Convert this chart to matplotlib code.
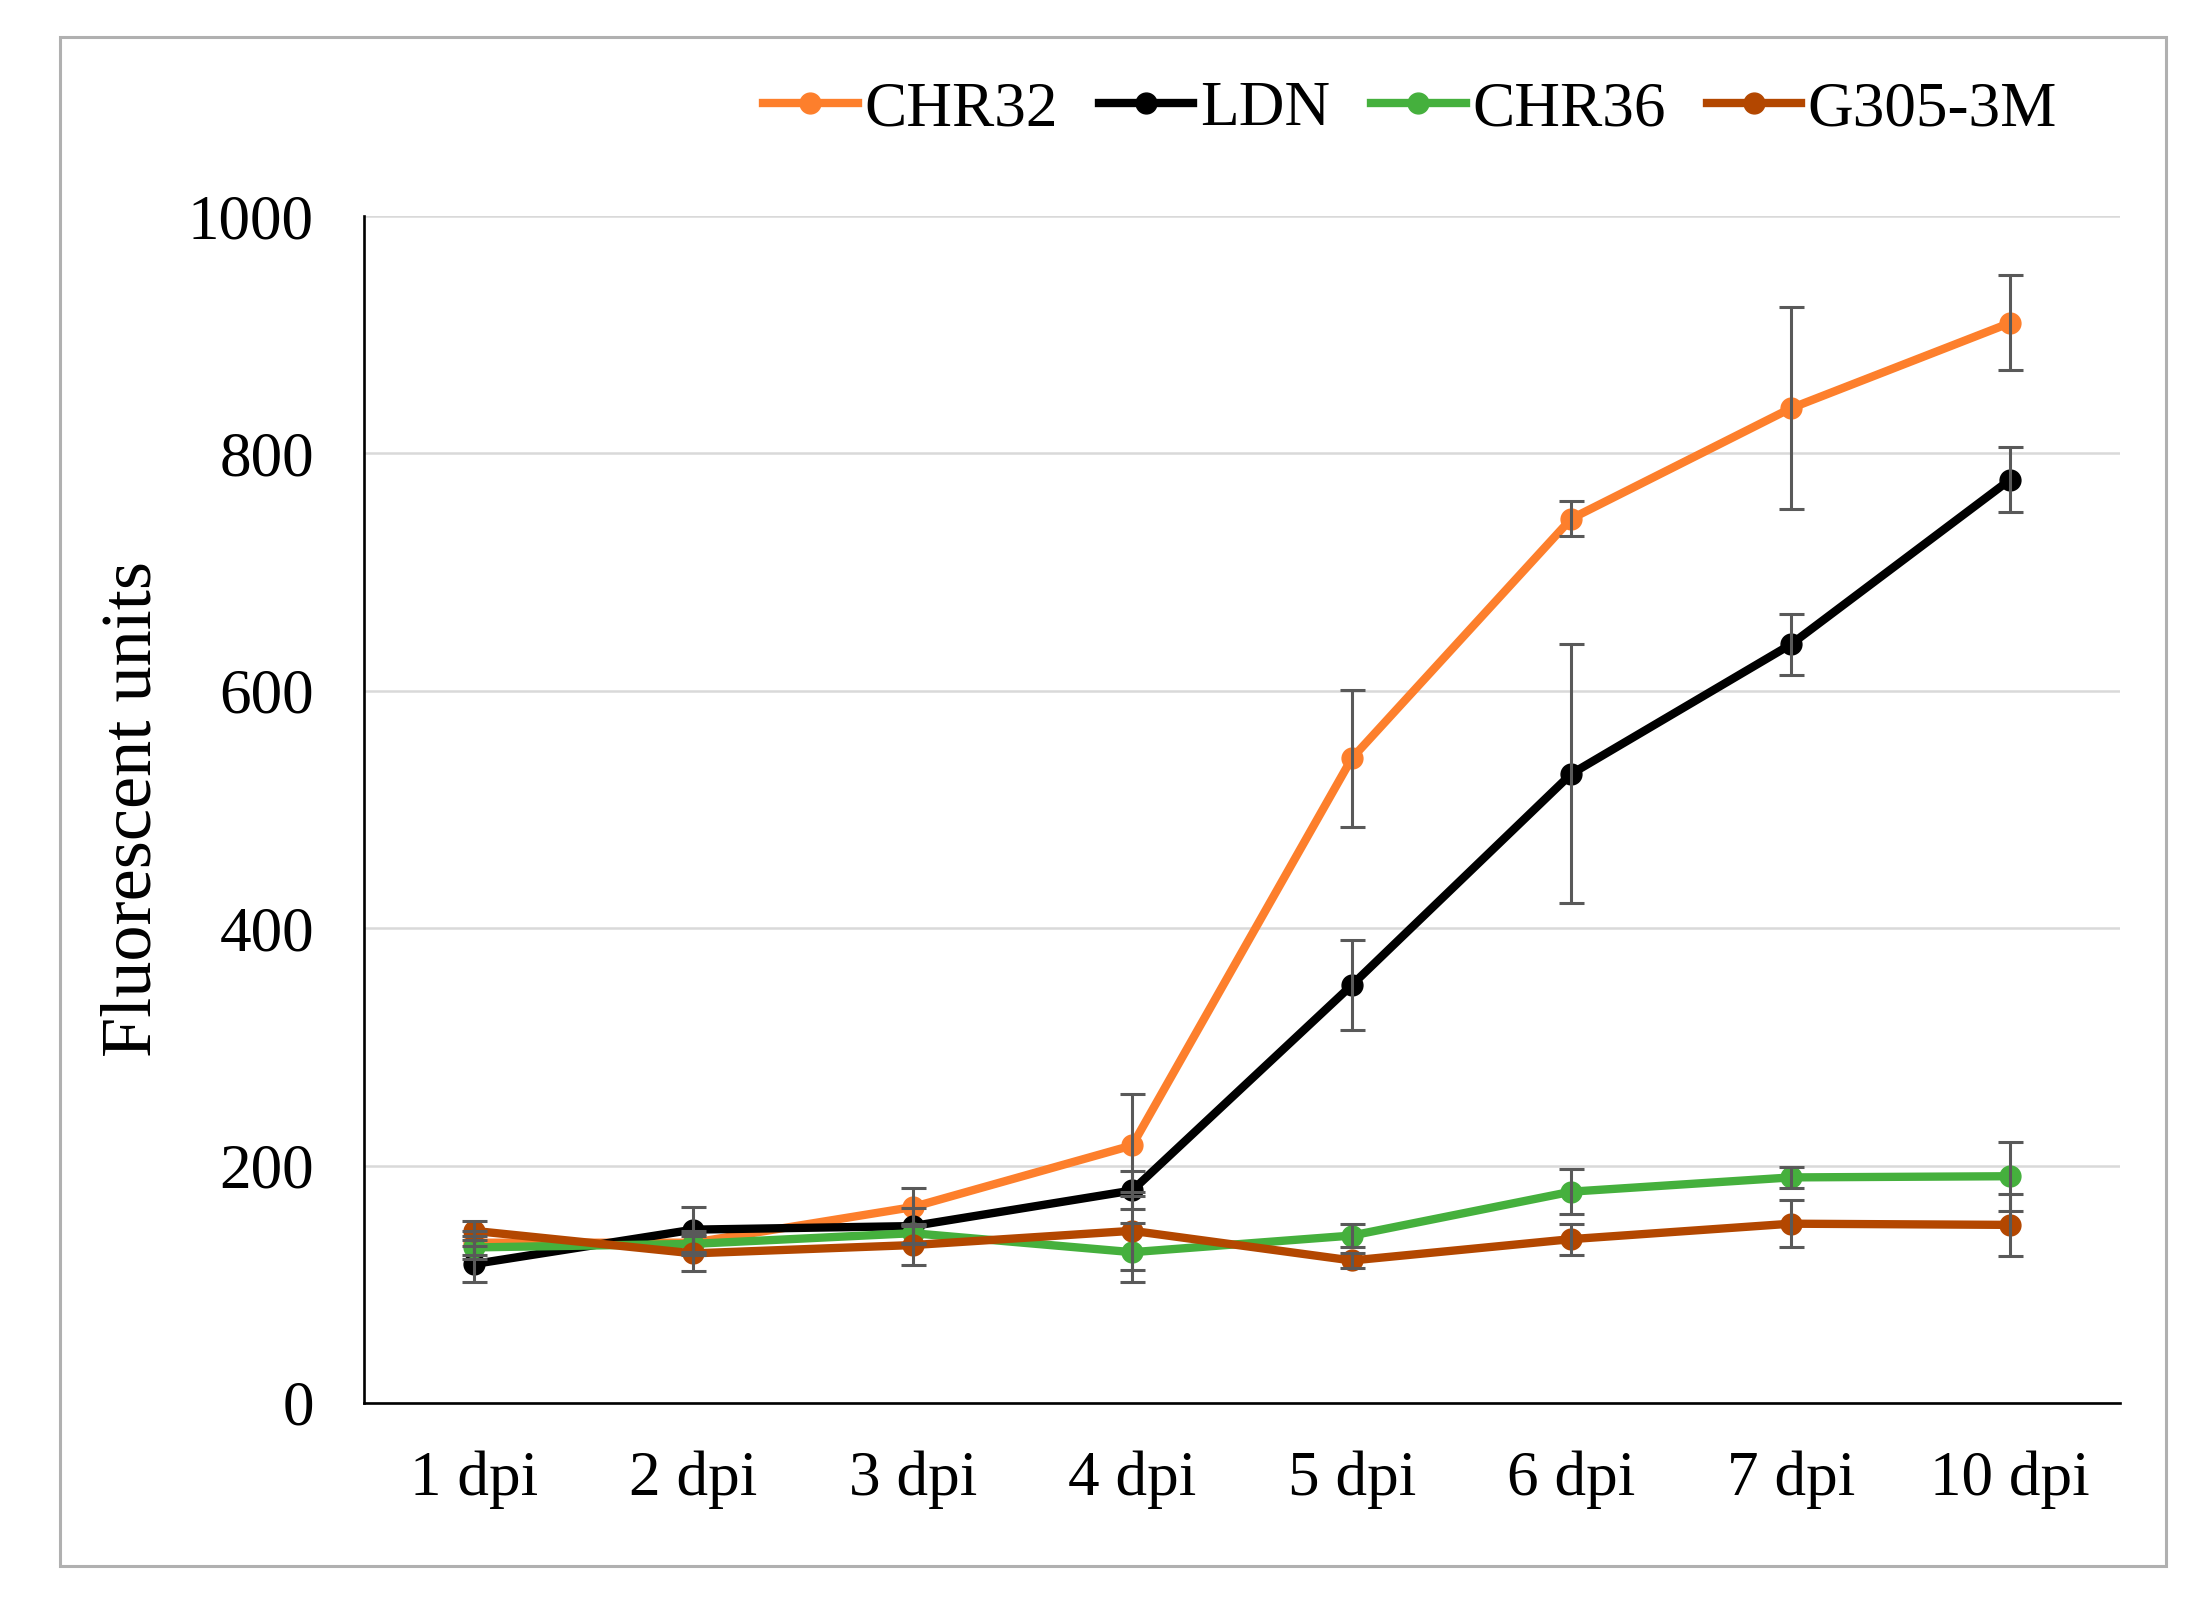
import matplotlib.pyplot as plt
from matplotlib.patches import Rectangle
import numpy as np

plt.rcParams.update({
    "font.family": ["Liberation Serif", "DejaVu Serif"],
    "font.size": 45.5,
})

days = ["1 dpi", "2 dpi", "3 dpi", "4 dpi", "5 dpi", "6 dpi", "7 dpi", "10 dpi"]

chr32 = [135, 135, 165, 217, 543, 745, 838, 910]
chr32_err = [10, 10, 16, 43, 58, 15, 85, 40]

ldn = [117, 146, 149, 179, 352, 530, 639, 778]
ldn_err = [15, 19, 15, 16, 38, 109, 26, 27]

chr36 = [131, 134, 143, 127, 141, 178, 190, 191]
chr36_err = [10, 8, 8, 25, 10, 19, 9, 29]

g305 = [145, 126, 133, 145, 120, 138, 151, 150]
g305_err = [8, 15, 17, 33, 6, 13, 20, 26]

series = [
    ("CHR32", chr32, chr32_err, "#FD7F2C"),
    ("LDN", ldn, ldn_err, "#000000"),
    ("CHR36", chr36, chr36_err, "#45B03D"),
    ("G305-3M", g305, g305_err, "#B34700"),
]

fig = plt.figure(figsize=(22.1, 16.23), dpi=100)
ax = fig.add_axes([0.1647, 0.1356, 0.7946, 0.7313])

x = np.arange(len(days))
for i, (name, vals, err, col) in enumerate(series):
    ax.plot(x, vals, color=col, lw=6, marker="o", markersize=15,
            label=name, zorder=3 + i)
    ax.errorbar(x, vals, yerr=err, fmt="none", ecolor="#595959",
                elinewidth=2.2, capsize=9, capthick=2.2, zorder=10)

ax.set_xlim(-0.5, len(days) - 0.5)
ax.set_ylim(0, 1000)
ax.set_yticks(np.arange(0, 1001, 200))
ax.set_xticks(x)
ax.set_xticklabels(days)

ax.yaxis.grid(True, color="#d9d9d9", lw=1.8)
ax.set_axisbelow(True)
for s in ["top", "right"]:
    ax.spines[s].set_visible(False)
for s in ["left", "bottom"]:
    ax.spines[s].set_linewidth(1.9)
    ax.spines[s].set_color("black")
ax.tick_params(axis="both", length=0)
ax.tick_params(axis="y", pad=36)
ax.tick_params(axis="x", pad=34)

ax.set_ylabel("Fluorescent units", fontsize=52)
ax.yaxis.set_label_coords(-0.113, 0.5)

fig.legend(loc="center", bbox_to_anchor=(1410 / 2210, 0.932), ncol=4,
           frameon=False, handlelength=1.5, handletextpad=0.1,
           columnspacing=0.65, borderpad=0)

# outer frame
fig.patches.append(Rectangle((60 / 2210, 1 - 1566 / 1623), 2106 / 2210, 1529 / 1623,
                             transform=fig.transFigure, fill=False,
                             edgecolor="#b0b0b0", lw=2.2))

fig.savefig("out.png", dpi=100)
